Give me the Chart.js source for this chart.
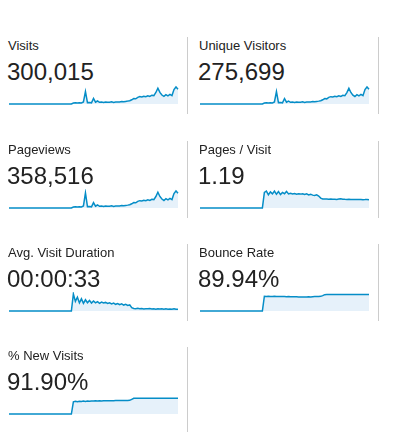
<!DOCTYPE html>
<html lang="en">
<head>
    <meta charset="UTF-8">
    <title>Site Usage Overview</title>
    <script src="https://cdn.jsdelivr.net/npm/chart.js"></script>
    <style>
        body {
            margin: 0;
            background: #fff;
            font-family: Arial, "Liberation Sans", sans-serif;
            color: #222;
            width: 395px;
            height: 432px;
            position: relative;
            overflow: hidden;
        }
        .panel {
            position: absolute;
            width: 191px;
            height: 110px;
        }
        .label {
            position: absolute;
            left: 8px;
            top: 38.5px;
            font-size: 13px;
            line-height: 1;
            white-space: nowrap;
        }
        .value {
            position: absolute;
            left: 7px;
            top: 59.7px;
            font-size: 24px;
            line-height: 1;
            white-space: nowrap;
        }
        .panel canvas {
            position: absolute;
            left: 8px;
            top: 85px;
        }
        .divider {
            position: absolute;
            left: 187px;
            top: 37px;
            width: 1px;
            height: 77px;
            background: #cccccc;
        }
    </style>
</head>
<body>

<div id="grid"></div>

<script>
    // metric names and their totals
    const metricNames = ['Visits', 'Unique Visitors', 'Pageviews', 'Pages / Visit',
        'Avg. Visit Duration', 'Bounce Rate', '% New Visits'];
    const metricTotals = ['300,015', '275,699', '358,516', '1.19', '00:00:33', '89.94%', '91.90%'];

    // daily values behind each sparkline (no data before launch)
    const visits = [
        0, 0, 0, 0, 0, 0, 0, 0, 0, 0, 0, 0, 0, 0, 0, 0,
        0, 0, 0, 0, 0, 0, 0, 0, 0, 0, 0, 0, 0, 0, 0, 0,
        120, 144, 108, 156, 132, 240, 1500, 168, 192, 144, 660, 216, 360, 204, 228, 180,
        240, 204, 216, 264, 192, 228, 252, 240, 288, 264, 312, 348, 396, 504, 660, 624,
        792, 888, 840, 936, 876, 984, 912, 1056, 1008, 1380, 1896, 1392, 1080, 912, 1128, 984,
        1152, 1008, 1740, 2040, 1776
    ];
    const uniqueVisitors = [
        0, 0, 0, 0, 0, 0, 0, 0, 0, 0, 0, 0, 0, 0, 0, 0,
        0, 0, 0, 0, 0, 0, 0, 0, 0, 0, 0, 0, 0, 0, 0, 0,
        110, 132, 100, 143, 121, 221, 1380, 155, 177, 132, 607, 199, 331, 188, 210, 166,
        221, 188, 199, 243, 177, 210, 232, 221, 265, 243, 287, 320, 364, 470, 612, 574,
        735, 817, 780, 861, 806, 905, 845, 972, 930, 1270, 1744, 1281, 990, 839, 1038, 910,
        1060, 930, 1610, 1890, 1640
    ];
    const pageviews = [
        0, 0, 0, 0, 0, 0, 0, 0, 0, 0, 0, 0, 0, 0, 0, 0,
        0, 0, 0, 0, 0, 0, 0, 0, 0, 0, 0, 0, 0, 0, 0, 0,
        140, 170, 130, 190, 160, 300, 2150, 200, 230, 170, 760, 260, 430, 240, 270, 210,
        290, 240, 260, 310, 230, 270, 300, 290, 340, 310, 370, 410, 470, 600, 780, 740,
        940, 1050, 1000, 1110, 1040, 1170, 1080, 1250, 1200, 1640, 2250, 1650, 1280, 1080, 1340, 1170,
        1370, 1200, 2070, 2430, 2110
    ];
    const pagesPerVisit = [
        0, 0, 0, 0, 0, 0, 0, 0, 0, 0, 0, 0, 0, 0, 0, 0,
        0, 0, 0, 0, 0, 0, 0, 0, 0, 0, 0, 0, 0, 0, 0, 0,
        1.95, 2.11, 1.66, 2.02, 1.77, 2.13, 1.72, 2.05, 1.68, 1.95, 1.79, 2.08, 1.76, 1.85, 1.77, 1.81,
        1.72, 1.78, 1.74, 1.79, 1.69, 1.77, 1.64, 1.73, 1.61, 1.56, 1.65, 1.50, 1.24, 1.14, 1.12, 1.13,
        1.11, 1.12, 1.09, 1.11, 1.08, 1.12, 1.16, 1.11, 1.09, 1.08, 1.09, 1.07, 1.08, 1.07, 1.08, 1.05,
        1.07, 1.04, 1.05, 1.07, 1.04
    ];
    const avgDuration = [
        0, 0, 0, 0, 0, 0, 0, 0, 0, 0, 0, 0, 0, 0, 0, 0,
        0, 0, 0, 0, 0, 0, 0, 0, 0, 0, 0, 0, 0, 0, 0, 0,
        109, 62, 88, 52, 78, 49, 72, 53, 68, 51, 64, 52, 60, 49, 57, 51,
        55, 48, 53, 46, 51, 43, 48, 40, 46, 38, 43, 36, 39, 21, 16, 14,
        17, 14, 16, 13, 15, 14, 16, 13, 14, 12, 15, 13, 14, 12, 14, 12,
        13, 12, 14, 11, 12
    ];
    const bounceRate = [
        0, 0, 0, 0, 0, 0, 0, 0, 0, 0, 0, 0, 0, 0, 0, 0,
        0, 0, 0, 0, 0, 0, 0, 0, 0, 0, 0, 0, 0, 0, 0, 0,
        86.8, 85.2, 86.4, 85.6, 84.9, 86.1, 85.3, 84.6, 85.7, 84.8, 85.2, 84.3, 84.9, 83.8, 84.5, 83.6,
        83.1, 82.4, 83.0, 82.2, 82.8, 82.5, 83.4, 83.0, 84.1, 84.6, 85.0, 85.5, 86.2, 90.5, 96.3, 96.5,
        96.4, 96.6, 96.5, 96.7, 96.6, 96.8, 96.7, 96.8, 96.9, 96.8, 96.9, 97.0, 96.9, 97.0, 97.1, 97.0,
        97.1, 97.0, 97.1, 97.2, 97.1
    ];
    const newVisits = [
        0, 0, 0, 0, 0, 0, 0, 0, 0, 0, 0, 0, 0, 0, 0, 0,
        0, 0, 0, 0, 0, 0, 0, 0, 0, 0, 0, 0, 0, 0, 0, 0,
        72.0, 74.5, 71.8, 75.2, 73.4, 76.0, 74.2, 76.5, 75.1, 77.0, 75.8, 77.3, 76.4, 77.8, 77.0, 78.1,
        77.5, 78.4, 78.0, 78.6, 78.3, 79.0, 78.7, 79.3, 79.1, 79.6, 79.4, 80.0, 80.2, 86.0, 92.0, 92.1,
        92.0, 92.2, 92.1, 92.2, 92.3, 92.2, 92.3, 92.4, 92.3, 92.4, 92.3, 92.4, 92.5, 92.4, 92.5, 92.4,
        92.5, 92.6, 92.5, 92.6, 92.5
    ];

    const metricSeries = [visits, uniqueVisitors, pageviews, pagesPerVisit, avgDuration, bounceRate, newVisits];
    // percentages are drawn against 100, the rest against their own peak
    const axisMax = [null, null, null, null, null, 100, 100];

    const colX = [0, 191];
    const rowY = [0, 104, 207, 310];

    const grid = document.getElementById('grid');

    metricNames.forEach((name, i) => {
        const col = i % 2;
        const row = Math.floor(i / 2);

        const panel = document.createElement('div');
        panel.className = 'panel';
        panel.style.left = colX[col] + 'px';
        panel.style.top = rowY[row] + 'px';
        panel.innerHTML = `<div class="label">${name}</div><div class="value">${metricTotals[i]}</div>`;

        const divider = document.createElement('div');
        divider.className = 'divider';
        if (row === 3) divider.style.height = '100px';
        panel.appendChild(divider);

        const canvas = document.createElement('canvas');
        canvas.width = 171;
        canvas.height = 21;
        panel.appendChild(canvas);
        grid.appendChild(panel);

        const data = metricSeries[i];
        new Chart(canvas.getContext('2d'), {
            type: 'line',
            data: {
                labels: data.map((_, d) => d),
                datasets: [{
                    data: data,
                    borderColor: '#058dc7',
                    borderWidth: 1.5,
                    backgroundColor: '#e6f1fa',
                    fill: 'origin',
                    pointRadius: 0,
                    tension: 0,
                    clip: false
                }]
            },
            options: {
                responsive: false,
                animation: false,
                devicePixelRatio: 1,
                layout: { padding: { left: 1, right: 1, top: 2, bottom: 2 } },
                plugins: {
                    legend: { display: false },
                    tooltip: { enabled: false }
                },
                scales: {
                    x: { display: false },
                    y: {
                        display: false,
                        min: 0,
                        max: axisMax[i] !== null ? axisMax[i] : Math.max(...data)
                    }
                }
            }
        });
    });
</script>

</body>
</html>
